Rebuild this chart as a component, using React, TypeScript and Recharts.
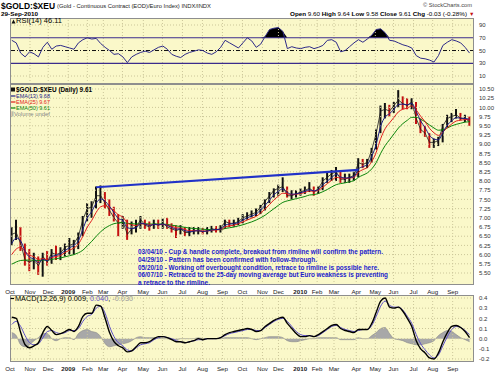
import React from "react";
import {
  ComposedChart,
  Line,
  Bar,
  Area,
  Cell,
  XAxis,
  YAxis,
  ReferenceLine,
} from "recharts";

// weekly samples, 03-Oct-2008 .. 29-Sep-2010 (index = week number)
const closes = [
  6.55, 6.6, 6.3, 5.85, 5.8, 5.85, 5.7, 5.95, 5.8, 6.05,
  6.0, 6.05, 6.2, 6.25, 6.3, 6.5, 6.95, 7.25, 7.3, 7.6,
  7.6, 7.4, 7.2, 7.0, 6.85, 6.9, 6.55, 6.7, 6.75, 6.95,
  6.8, 6.75, 6.85, 6.8, 6.85, 6.75, 6.7, 6.65, 6.7, 6.6,
  6.6, 6.65, 6.65, 6.62, 6.65, 6.7, 6.68, 6.7, 6.9, 6.85,
  6.85, 6.9, 7.0, 7.05, 7.1, 7.15, 7.3, 7.45, 7.6, 7.75,
  7.8, 7.85, 7.6, 7.6, 7.65, 7.7, 7.75, 7.8, 7.7, 7.8,
  8.0, 8.1, 8.2, 8.25, 8.05, 8.05, 8.1, 8.15, 8.5, 8.45,
  8.5, 8.85, 9.3, 9.9, 9.95, 9.9, 10.05, 10.2, 10.1, 10.05,
  10.15, 9.7, 9.4, 9.3, 9.05, 9.05, 9.1, 9.5, 9.7, 9.75,
  9.8, 9.7, 9.7, 9.61,
];
const highs = [
  6.75, 6.95, 6.75, 6.3, 6.15, 6.05, 5.95, 6.05, 6.1, 6.15,
  6.25, 6.2, 6.3, 6.45, 6.4, 6.6, 7.05, 7.4, 7.45, 7.85,
  7.88, 7.7, 7.5, 7.3, 7.1, 7.05, 6.95, 6.9, 6.95, 7.05,
  6.95, 6.9, 6.95, 6.95, 6.98, 7.0, 6.85, 6.8, 6.8, 6.75,
  6.75, 6.75, 6.75, 6.72, 6.75, 6.78, 6.78, 6.8, 6.95, 6.95,
  6.95, 7.0, 7.1, 7.15, 7.2, 7.25, 7.35, 7.5, 7.7, 7.8,
  7.9, 8.1, 7.85, 7.75, 7.75, 7.8, 7.85, 7.97, 7.85, 7.85,
  8.1, 8.25, 8.3, 8.38, 8.25, 8.2, 8.2, 8.25, 8.62, 8.6,
  8.6, 8.9, 9.4, 10.05, 10.12, 10.07, 10.15, 10.47, 10.3, 10.25,
  10.25, 10.15, 9.7, 9.5, 9.3, 9.15, 9.2, 9.55, 9.8, 9.85,
  9.96, 9.85, 9.8, 9.75,
];
const lows = [
  6.25, 6.4, 6.1, 5.7, 5.55, 5.6, 5.45, 5.4, 5.7, 5.75,
  5.85, 5.85, 5.95, 6.0, 6.0, 6.15, 6.5, 6.9, 7.0, 7.25,
  7.4, 7.25, 7.05, 6.9, 6.5, 6.7, 6.4, 6.55, 6.6, 6.7,
  6.7, 6.65, 6.7, 6.7, 6.7, 6.7, 6.6, 6.45, 6.55, 6.5,
  6.5, 6.55, 6.55, 6.55, 6.55, 6.6, 6.6, 6.6, 6.7, 6.75,
  6.75, 6.8, 6.85, 6.95, 7.0, 7.05, 7.1, 7.2, 7.4, 7.55,
  7.6, 7.7, 7.55, 7.5, 7.55, 7.6, 7.65, 7.7, 7.6, 7.65,
  7.75, 7.95, 8.0, 8.0, 7.95, 7.95, 7.95, 8.0, 8.1, 8.35,
  8.35, 8.5, 8.85, 9.3, 9.7, 9.75, 9.85, 10.0, 9.95, 9.95,
  9.95, 9.55, 9.3, 9.2, 8.9, 8.9, 8.95, 9.05, 9.45, 9.6,
  9.7, 9.65, 9.6, 9.5,
];
const ema13 = [
  6.3, 6.45, 6.37, 6.09, 5.93, 5.88, 5.78, 5.87, 5.83, 5.95,
  5.98, 6.02, 6.11, 6.19, 6.25, 6.38, 6.69, 7.0, 7.17, 7.4,
  7.51, 7.45, 7.31, 7.14, 6.98, 6.93, 6.73, 6.71, 6.73, 6.85,
  6.83, 6.79, 6.82, 6.81, 6.83, 6.79, 6.74, 6.69, 6.7, 6.65,
  6.62, 6.64, 6.65, 6.63, 6.64, 6.67, 6.68, 6.69, 6.8, 6.83,
  6.84, 6.87, 6.94, 7.0, 7.05, 7.1, 7.21, 7.34, 7.48, 7.63,
  7.72, 7.79, 7.69, 7.64, 7.65, 7.68, 7.72, 7.76, 7.73, 7.77,
  7.9, 8.0, 8.1, 8.18, 8.11, 8.08, 8.09, 8.12, 8.33, 8.39,
  8.45, 8.67, 9.0, 9.49, 9.74, 9.83, 9.95, 10.08, 10.09, 10.07,
  10.11, 9.89, 9.63, 9.45, 9.24, 9.14, 9.12, 9.32, 9.52, 9.64,
  9.72, 9.71, 9.7, 9.68,
];
const ema25 = [
  6.0, 6.15, 6.2, 6.08, 5.99, 5.94, 5.87, 5.89, 5.86, 5.92,
  5.95, 5.98, 6.06, 6.12, 6.18, 6.29, 6.5, 6.75, 6.93, 7.15,
  7.3, 7.33, 7.28, 7.19, 7.08, 7.02, 6.86, 6.81, 6.79, 6.84,
  6.83, 6.8, 6.82, 6.81, 6.82, 6.8, 6.77, 6.73, 6.72, 6.68,
  6.65, 6.65, 6.65, 6.64, 6.64, 6.66, 6.67, 6.68, 6.75, 6.78,
  6.8, 6.84, 6.89, 6.94, 6.99, 7.04, 7.13, 7.24, 7.36, 7.49,
  7.59, 7.67, 7.65, 7.63, 7.64, 7.66, 7.69, 7.73, 7.72, 7.75,
  7.83, 7.93, 8.02, 8.1, 8.08, 8.07, 8.08, 8.1, 8.24, 8.31,
  8.37, 8.53, 8.78, 9.15, 9.42, 9.58, 9.73, 9.88, 9.95, 9.98,
  10.04, 9.93, 9.76, 9.61, 9.43, 9.31, 9.24, 9.33, 9.45, 9.55,
  9.63, 9.65, 9.67, 9.67,
];
const ema50 = [
  5.74, 5.8, 5.84, 5.85, 5.85, 5.85, 5.84, 5.85, 5.85, 5.87,
  5.89, 5.91, 5.94, 5.97, 6.0, 6.05, 6.12, 6.24, 6.36, 6.5,
  6.62, 6.72, 6.79, 6.84, 6.86, 6.87, 6.85, 6.84, 6.83, 6.84,
  6.84, 6.83, 6.83, 6.83, 6.83, 6.82, 6.8, 6.78, 6.76, 6.74,
  6.72, 6.71, 6.7, 6.69, 6.68, 6.68, 6.68, 6.68, 6.71, 6.73,
  6.75, 6.78, 6.81, 6.85, 6.89, 6.94, 7.0, 7.07, 7.16, 7.25,
  7.34, 7.42, 7.46, 7.49, 7.52, 7.55, 7.58, 7.62, 7.63, 7.66,
  7.71, 7.77, 7.84, 7.9, 7.93, 7.95, 7.98, 8.01, 8.1, 8.16,
  8.22, 8.33, 8.5, 8.75, 8.96, 9.12, 9.28, 9.44, 9.56, 9.65,
  9.73, 9.73, 9.68, 9.61, 9.52, 9.44, 9.38, 9.39, 9.44, 9.5,
  9.54, 9.57, 9.6, 9.61,
];
const rsi14 = [
  66, 62, 46, 40, 48, 45, 40, 55, 63, 52,
  57, 58, 56, 54, 52, 62, 67, 70, 68, 69,
  61, 55, 50, 44, 45, 40, 31, 40, 44, 47,
  49, 47, 51, 55, 57, 52, 44, 41, 39, 44,
  47, 49, 51, 50, 46, 44, 48, 55, 66, 62,
  58, 54, 62, 70, 65, 55, 60, 72, 83, 85,
  86, 80, 53, 56, 54, 53, 55, 56, 53, 55,
  58, 66, 67, 63, 48, 50, 56, 62, 67, 63,
  68, 74, 83, 84, 78, 66, 65, 62, 59, 57,
  54, 42, 38, 37, 35, 32, 42, 58, 63, 67,
  65, 62, 55, 46,
];
const macdLine = [
  0.21, 0.2, 0.06, -0.06, -0.09, -0.07, -0.04, 0.06, 0.12, 0.08,
  0.04, 0.05, 0.07, 0.09, 0.07, 0.12, 0.22, 0.25, 0.25, 0.33,
  0.32, 0.2, 0.06, -0.03, -0.07, -0.09, -0.13, -0.12, -0.08, -0.04,
  -0.04, -0.03, 0.0, 0.02, 0.02, 0.01, -0.01, -0.03, -0.03, -0.04,
  -0.03, -0.02, 0.0, -0.01, 0.0, 0.0, 0.0, 0.01, 0.04, 0.06,
  0.07, 0.08, 0.09, 0.1, 0.09, 0.07, 0.08, 0.12, 0.15, 0.18,
  0.2, 0.21, 0.15, 0.1, 0.05, 0.02, 0.02, 0.03, 0.02, 0.04,
  0.07, 0.1, 0.13, 0.14, 0.1, 0.08, 0.07, 0.06, 0.09, 0.09,
  0.09, 0.15, 0.26, 0.37, 0.4, 0.31, 0.3, 0.31, 0.27, 0.2,
  0.12, -0.02, -0.1, -0.14, -0.19, -0.2, -0.14, -0.03, 0.06, 0.12,
  0.13, 0.11, 0.07, 0.01,
];
const macdSignal = [
  0.14, 0.17, 0.12, 0.03, -0.04, -0.06, -0.05, 0.01, 0.07, 0.08,
  0.06, 0.05, 0.06, 0.08, 0.08, 0.1, 0.17, 0.22, 0.24, 0.3,
  0.32, 0.25, 0.12, 0.02, -0.04, -0.07, -0.11, -0.12, -0.09, -0.06,
  -0.05, -0.04, -0.01, 0.01, 0.02, 0.01, 0.0, -0.02, -0.03, -0.04,
  -0.03, -0.02, -0.01, -0.01, 0.0, 0.0, 0.0, 0.01, 0.03, 0.05,
  0.06, 0.07, 0.08, 0.09, 0.09, 0.08, 0.08, 0.11, 0.14, 0.17,
  0.19, 0.2, 0.17, 0.12, 0.07, 0.04, 0.03, 0.03, 0.02, 0.03,
  0.06, 0.09, 0.12, 0.13, 0.11, 0.09, 0.08, 0.07, 0.08, 0.09,
  0.09, 0.13, 0.22, 0.32, 0.37, 0.33, 0.31, 0.31, 0.28, 0.22,
  0.15, 0.04, -0.05, -0.11, -0.16, -0.19, -0.16, -0.07, 0.02, 0.09,
  0.12, 0.11, 0.08, 0.04,
];
const macdHist = [
  0.06, 0.03, -0.06, -0.08, -0.06, -0.02, 0.01, 0.05, 0.05, 0.0,
  -0.02, 0.0, 0.01, 0.01, -0.01, 0.05, 0.08, 0.09, 0.07, 0.06,
  0.02, -0.05, -0.08, -0.07, -0.06, -0.05, -0.04, -0.02, 0.01, 0.02,
  0.01, 0.01, 0.01, 0.01, 0.0, 0.0, -0.01, -0.01, 0.0, 0.0,
  0.0, 0.0, 0.01, 0.0, 0.0, 0.0, 0.0, 0.0, 0.01, 0.01,
  0.01, 0.01, 0.01, 0.01, 0.0, -0.01, 0.0, 0.01, 0.02, 0.02,
  0.02, 0.01, -0.02, -0.03, -0.03, -0.02, -0.01, 0.0, 0.0, 0.01,
  0.01, 0.01, 0.01, 0.01, -0.01, -0.01, -0.01, -0.01, 0.01, 0.0,
  0.0, 0.03, 0.06, 0.1, 0.11, 0.05, 0.0, -0.01, -0.02, -0.04,
  -0.05, -0.06, -0.06, -0.05, -0.04, -0.02, 0.03, 0.06, 0.08, 0.07,
  0.04, 0.01, -0.01, -0.03,
];

// cup & handle rimline end points (week index, price)
const rimWeeks = [19, 78];
const rimPrices = [7.83, 8.3];

// month ticks (week index) and their labels
const monthTicks = [
  -0.4, 4.1, 8.2, 12.7, 17, 20.6, 24.9, 29.6, 33.9, 38.4, 42.9, 47.4,
  51.9, 56.4, 60, 64.9, 68.7, 72.5, 77.5, 81.8, 85.9, 90.4, 94.7, 99.2,
];
const monthLabels = [
  "Oct", "Nov", "Dec", "2009", "Feb", "Mar", "Apr", "May", "Jun", "Jul", "Aug", "Sep",
  "Oct", "Nov", "Dec", "2010", "Feb", "Mar", "Apr", "May", "Jun", "Jul", "Aug", "Sep",
];
const rsiTicks = [10, 30, 50, 70, 90];
const priceTicks = [
  5.5, 5.75, 6, 6.25, 6.5, 6.75, 7, 7.25, 7.5, 7.75, 8, 8.25, 8.5, 8.75,
  9, 9.25, 9.5, 9.75, 10, 10.25, 10.5,
];
const macdTicks = [-0.2, -0.1, 0, 0.1, 0.2, 0.3, 0.4];

const notes = [
  "03/04/10 - Cup & handle complete, breakout from rimline will confirm the pattern.",
  "04/29/10 - Pattern has been confirmed with follow-through.",
  "05/20/10 - Working off overbought condition, retrace to rimline is possible here.",
  "06/07/10 - Retraced to the 25-day moving average but Euro weakness is preventing",
  "a retrace to the rimline.",
];
const noteWidths = [245, 179, 241, 250, 72];

const rows = closes.map((c, i) => ({
  i,
  close: c,
  range: [lows[i], highs[i]],
  up: i === 0 || c >= closes[i - 1],
  e13: ema13[i],
  e25: ema25[i],
  e50: ema50[i],
  rim: rimWeeks.includes(i) ? rimPrices[rimWeeks.indexOf(i)] : null,
  rsi: rsi14[i],
  rsiHi: [70, Math.max(70, rsi14[i])],
  macd: macdLine[i],
  sig: macdSignal[i],
  hist: macdHist[i],
}));

const FONT = "'Liberation Sans', Arial, Helvetica, sans-serif";
const PANEL_BG = "#FAF8C9";
const GRID = "#CBC699";
const X_DOMAIN = [-0.4, 104];
const W = 500;
const MARGIN = { top: 0, right: 0, bottom: 0, left: 10 };

function MonthTick({ x, y, payload }: any) {
  const label = monthLabels[monthTicks.indexOf(payload.value)];
  const bold = /^\d{4}$/.test(label);
  return (
    <text
      x={x}
      y={y + 7}
      textAnchor="middle"
      fontSize={6.2}
      fontWeight={bold ? 700 : 400}
      fill="#222"
      fontFamily={FONT}
    >
      {label}
    </text>
  );
}

function makeYTick(fmt: (v: number) => string) {
  return ({ x, y, payload }: any) => (
    <text x={x} y={y + 2.2} fontSize={6} fill="#333" fontFamily={FONT}>
      {fmt(payload.value)}
    </text>
  );
}

// dotted grid drawn through the axes' own scales
function gridLines(yTicks: number[]) {
  return [
    ...monthTicks.slice(1).map((t) => (
      <ReferenceLine key={"gx" + t} x={t} stroke={GRID} strokeDasharray="1 2" />
    )),
    ...yTicks.map((t) => (
      <ReferenceLine key={"gy" + t} y={t} stroke={GRID} strokeDasharray="1 2" />
    )),
  ];
}

function RsiPanel() {
  return (
    <ComposedChart width={W} height={66} data={rows} margin={MARGIN}>
      <XAxis dataKey="i" type="number" domain={X_DOMAIN} ticks={monthTicks} hide allowDataOverflow />
      <YAxis
        orientation="right"
        width={26}
        type="number"
        domain={[-2.5, 101]}
        ticks={rsiTicks}
        interval={0}
        allowDataOverflow
        axisLine={false}
        tickLine={false}
        tickSize={3}
        tick={makeYTick((v) => String(v))}
      />
      {gridLines([10, 90])}
      <ReferenceLine y={70} stroke="#3B2C8C" strokeWidth={1.2} />
      <ReferenceLine y={30} stroke="#3B2C8C" strokeWidth={1.2} />
      <ReferenceLine y={50} stroke="#111" strokeDasharray="4 2 1 2" />
      <Area
        dataKey="rsiHi"
        type="linear"
        fill="#000"
        fillOpacity={1}
        stroke="none"
        isAnimationActive={false}
      />
      <Line
        dataKey="rsi"
        type="linear"
        stroke="#2E2A88"
        strokeWidth={1}
        dot={false}
        isAnimationActive={false}
      />
    </ComposedChart>
  );
}

function PricePanel() {
  return (
    <ComposedChart width={W} height={212} data={rows} margin={MARGIN} barGap={0}>
      <XAxis
        dataKey="i"
        type="number"
        domain={X_DOMAIN}
        ticks={monthTicks}
        allowDataOverflow
        height={11}
        axisLine={false}
        tickLine={false}
        tickSize={0}
        tick={<MonthTick />}
        interval={0}
      />
      <YAxis
        orientation="right"
        width={26}
        type="number"
        domain={[5.174, 10.636]}
        ticks={priceTicks}
        interval={0}
        allowDataOverflow
        axisLine={false}
        tickLine={false}
        tickSize={3}
        tick={makeYTick((v) => v.toFixed(2))}
      />
      {gridLines(priceTicks)}
      <Bar dataKey="range" barSize={2} isAnimationActive={false}>
        {rows.map((r) => (
          <Cell key={r.i} fill={r.up ? "#111" : "#C41010"} />
        ))}
      </Bar>
      <Line dataKey="close" type="linear" stroke="#1a1a1a" strokeWidth={0.8} dot={false} isAnimationActive={false} />
      <Line dataKey="e50" type="monotone" stroke="#0A850A" strokeWidth={1} dot={false} isAnimationActive={false} />
      <Line dataKey="e25" type="monotone" stroke="#E01B1B" strokeWidth={1} dot={false} isAnimationActive={false} />
      <Line dataKey="e13" type="monotone" stroke="#1C1C86" strokeWidth={1} dot={false} isAnimationActive={false} />
      <Line
        dataKey="rim"
        type="linear"
        stroke="#2132C8"
        strokeWidth={2.2}
        dot={false}
        connectNulls
        isAnimationActive={false}
      />
    </ComposedChart>
  );
}

function MacdPanel() {
  return (
    <ComposedChart width={W} height={79} data={rows} margin={MARGIN}>
      <XAxis
        dataKey="i"
        type="number"
        domain={X_DOMAIN}
        ticks={monthTicks}
        allowDataOverflow
        height={12}
        axisLine={false}
        tickLine={false}
        tickSize={0}
        tick={<MonthTick />}
        interval={0}
      />
      <YAxis
        orientation="right"
        width={26}
        type="number"
        domain={[-0.2295, 0.4295]}
        ticks={macdTicks}
        interval={0}
        allowDataOverflow
        axisLine={false}
        tickLine={false}
        tickSize={3}
        tick={makeYTick((v) => v.toFixed(1))}
      />
      {gridLines(macdTicks)}
      <Area
        dataKey="hist"
        type="monotone"
        baseValue={0}
        fill="#A8A8A8"
        fillOpacity={1}
        stroke="#8A8A8A"
        strokeWidth={0.6}
        isAnimationActive={false}
      />
      <Line dataKey="sig" type="monotone" stroke="#5B4EC8" strokeWidth={1} dot={false} isAnimationActive={false} />
      <Line dataKey="macd" type="monotone" stroke="#000" strokeWidth={1.4} dot={false} isAnimationActive={false} />
    </ComposedChart>
  );
}

function Overlay() {
  const t = { fontFamily: FONT };
  return (
    <svg width={W} height={374} style={{ position: "absolute", left: 0, top: 0, pointerEvents: "none" }}>
      {/* header */}
      <text x={1} y={8.6} fontSize={9.4} fontWeight={700} textLength={54} lengthAdjust="spacingAndGlyphs" style={t}>
        $GOLD:$XEU
      </text>
      <text x={57} y={8} fontSize={6} textLength={154} lengthAdjust="spacingAndGlyphs" style={t} fill="#222">
        (Gold - Continuous Contract (EOD)/Euro Index) INDX/INDX
      </text>
      <text x={1} y={16} fontSize={5.8} fontWeight={700} textLength={37} lengthAdjust="spacingAndGlyphs" style={t}>
        29-Sep-2010
      </text>
      <text x={423} y={7} fontSize={5.6} fill="#444" textLength={49} lengthAdjust="spacingAndGlyphs" style={t}>
        © StockCharts.com
      </text>
      <text x={290} y={15.5} fontSize={6.2} textLength={177} lengthAdjust="spacingAndGlyphs" style={t}>
        <tspan fontWeight={700}>Open</tspan> 9.60 <tspan fontWeight={700}>High</tspan> 9.64{" "}
        <tspan fontWeight={700}>Low</tspan> 9.58 <tspan fontWeight={700}>Close</tspan> 9.61{" "}
        <tspan fontWeight={700}>Chg</tspan> -0.03 (-0.28%)
      </text>
      <text x={469} y={15.5} fontSize={5.5} fill="#C41010" style={t}>▼</text>

      {/* panel frames */}
      <rect x={10.5} y={18.5} width={463} height={65} fill="none" stroke="#8E8E8E" />
      <rect x={10.5} y={84.5} width={463} height={200} fill="none" stroke="#8E8E8E" />
      <rect x={10.5} y={295.5} width={463} height={66} fill="none" stroke="#8E8E8E" />

      {/* RSI label */}
      <path d="M11.5 23.5 L13.5 19.5 L15.5 23.5 Z" fill="#111" />
      <text x={16} y={23.3} fontSize={6.5} textLength={46} lengthAdjust="spacingAndGlyphs" style={t}>
        RSI(14) 46.11
      </text>

      {/* main legend */}
      <rect x={11} y={87.5} width={4} height={4} fill="#111" />
      <text x={16} y={92} fontSize={6.5} fontWeight={700} textLength={76} lengthAdjust="spacingAndGlyphs" style={t}>
        $GOLD:$XEU (Daily) 9.61
      </text>
      <line x1={11} y1={96} x2={15.5} y2={96} stroke="#1C1C86" strokeWidth={1.2} />
      <text x={16} y={98} fontSize={6} fill="#1C1C86" textLength={34} lengthAdjust="spacingAndGlyphs" style={t}>
        EMA(13) 9.68
      </text>
      <line x1={11} y1={102} x2={15.5} y2={102} stroke="#E01B1B" strokeWidth={1.2} />
      <text x={16} y={104} fontSize={6} fill="#E01B1B" textLength={34} lengthAdjust="spacingAndGlyphs" style={t}>
        EMA(25) 9.67
      </text>
      <line x1={11} y1={108} x2={15.5} y2={108} stroke="#0A850A" strokeWidth={1.2} />
      <text x={16} y={110} fontSize={6} fill="#0A850A" textLength={34} lengthAdjust="spacingAndGlyphs" style={t}>
        EMA(50) 9.61
      </text>
      <text x={11} y={116} fontSize={6} fill="#888" textLength={39} lengthAdjust="spacingAndGlyphs" style={t}>
        ⫼Volume undef
      </text>

      {/* annotations */}
      {notes.map((n, k) => (
        <text
          key={k}
          x={138}
          y={254 + k * 7.8}
          fontSize={6.6}
          fontWeight={700}
          fill="#1A1ACC"
          textLength={noteWidths[k]}
          lengthAdjust="spacingAndGlyphs"
          style={t}
        >
          {n}
        </text>
      ))}

      {/* MACD label */}
      <line x1={10.5} y1={298.5} x2={14} y2={298.5} stroke="#000" strokeWidth={1.2} />
      <text x={15} y={300.5} fontSize={6.3} textLength={118} lengthAdjust="spacingAndGlyphs" style={t}>
        MACD(12,26,9) 0.009, <tspan fill="#5B4EC8">0.040</tspan>, <tspan fill="#999">-0.030</tspan>
      </text>
    </svg>
  );
}

export default function App() {
  const panel = (top: number, height: number) => (
    <div style={{ position: "absolute", left: 10, top, width: 464, height, background: PANEL_BG }} />
  );
  return (
    <div
      style={{
        position: "absolute",
        left: 0,
        top: 0,
        width: W,
        height: 374,
        background: "#fff",
        overflow: "hidden",
        fontFamily: FONT,
      }}
    >
      {panel(18, 66)}
      {panel(84, 201)}
      {panel(295, 67)}
      <div style={{ position: "absolute", left: 0, top: 18 }}>
        <RsiPanel />
      </div>
      <div style={{ position: "absolute", left: 0, top: 84 }}>
        <PricePanel />
      </div>
      <div style={{ position: "absolute", left: 0, top: 295 }}>
        <MacdPanel />
      </div>
      <Overlay />
    </div>
  );
}
